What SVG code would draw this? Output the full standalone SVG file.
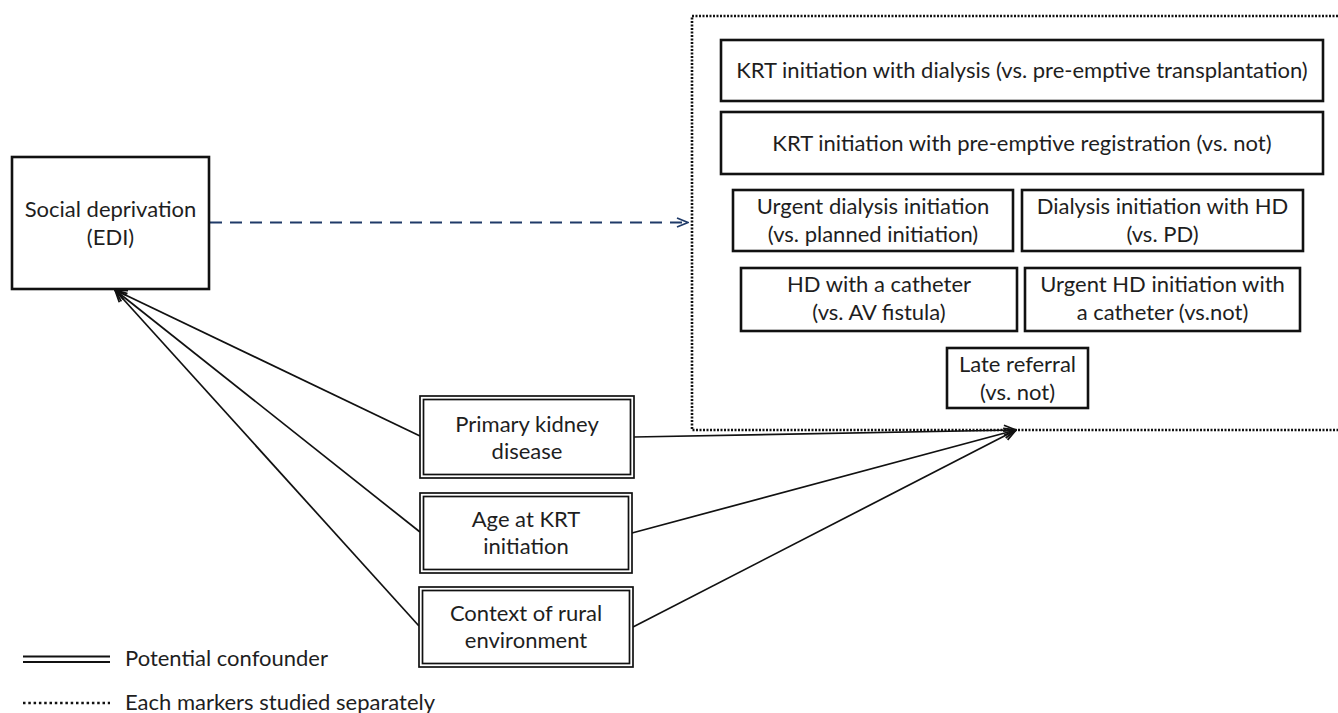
<svg xmlns="http://www.w3.org/2000/svg" width="1338" height="713" viewBox="0 0 1338 713">
  <defs>
    <style>
      .t { font-family: Lato, "Open Sans", "Liberation Sans", sans-serif; font-size: 22px; fill: #1e1e1e; text-anchor: middle; }
      .tl { font-family: Lato, "Open Sans", "Liberation Sans", sans-serif; font-size: 22px; fill: #1e1e1e; text-anchor: start; }
      .box { fill: #ffffff; stroke: #111111; stroke-width: 2.6; }
      .dbl { fill: #ffffff; stroke: #111111; stroke-width: 1.7; }
      .dblin { fill: none; stroke: #111111; stroke-width: 1.7; }
      .conn { fill: none; stroke: #111111; stroke-width: 1.7; }
      .dash { fill: none; stroke: #1F3A68; stroke-width: 2; stroke-dasharray: 12 8; }
      .dots { fill: none; stroke: #111111; stroke-width: 2.6; stroke-dasharray: 2 1.5; }
    </style>
    <marker id="arrB" viewBox="0 0 14 12" refX="13" refY="6" markerWidth="14" markerHeight="12" markerUnits="userSpaceOnUse" orient="auto">
      <path d="M1,1 L13,6 L1,11" fill="none" stroke="#111111" stroke-width="1.8"/>
    </marker>
    <marker id="arrN" viewBox="0 0 14 12" refX="13" refY="6" markerWidth="14" markerHeight="12" markerUnits="userSpaceOnUse" orient="auto">
      <path d="M2,1.5 L13,6 L2,10.5" fill="none" stroke="#1F3A68" stroke-width="1.8"/>
    </marker>
  </defs>

  <rect width="1338" height="713" fill="#ffffff"/>

  <g id="outcomes-group">
    <path class="dots" d="M1345,16 L692,16 L692,430 L1345,430"/>
  </g>

  <g id="connectors">
    <line class="dash" x1="210" y1="222.5" x2="688" y2="222.5" marker-end="url(#arrN)"/>
    <line class="conn" x1="420" y1="436" x2="115" y2="290" marker-end="url(#arrB)"/>
    <line class="conn" x1="420" y1="532" x2="115" y2="290" marker-end="url(#arrB)"/>
    <line class="conn" x1="419" y1="626" x2="115" y2="290" marker-end="url(#arrB)"/>
    <line class="conn" x1="634" y1="437" x2="1016" y2="430" marker-end="url(#arrB)"/>
    <line class="conn" x1="632" y1="533" x2="1016" y2="430" marker-end="url(#arrB)"/>
    <line class="conn" x1="633" y1="627" x2="1016" y2="430" marker-end="url(#arrB)"/>
  </g>

  <g id="social-deprivation">
    <rect class="box" x="12" y="157" width="197" height="132"/>
    <text class="t" x="110.5" y="217">Social deprivation</text>
    <text class="t" x="110.5" y="245">(EDI)</text>
  </g>

  <g id="krt-dialysis">
    <rect class="box" x="721" y="40" width="602" height="61"/>
    <text class="t" x="1022" y="78">KRT initiation with dialysis (vs. pre-emptive transplantation)</text>
  </g>

  <g id="krt-registration">
    <rect class="box" x="721" y="112" width="602" height="62"/>
    <text class="t" x="1022" y="151">KRT initiation with pre-emptive registration (vs. not)</text>
  </g>

  <g id="urgent-dialysis">
    <rect class="box" x="733" y="190" width="280" height="61"/>
    <text class="t" x="873" y="214">Urgent dialysis initiation</text>
    <text class="t" x="873" y="242">(vs. planned initiation)</text>
  </g>

  <g id="dialysis-hd">
    <rect class="box" x="1022" y="190" width="281" height="61"/>
    <text class="t" x="1162.5" y="214">Dialysis initiation with HD</text>
    <text class="t" x="1162.5" y="242">(vs. PD)</text>
  </g>

  <g id="hd-catheter">
    <rect class="box" x="741" y="268" width="276" height="63"/>
    <text class="t" x="879" y="292">HD with a catheter</text>
    <text class="t" x="879" y="320">(vs. AV fistula)</text>
  </g>

  <g id="urgent-hd-catheter">
    <rect class="box" x="1025" y="268" width="275" height="63"/>
    <text class="t" x="1162.5" y="292">Urgent HD initiation with</text>
    <text class="t" x="1162.5" y="320">a catheter (vs.not)</text>
  </g>

  <g id="late-referral">
    <rect class="box" x="947" y="348" width="141" height="60"/>
    <text class="t" x="1017.5" y="372">Late referral</text>
    <text class="t" x="1017.5" y="400">(vs. not)</text>
  </g>

  <g id="primary-kidney-disease">
    <rect class="dbl" x="420" y="396" width="214" height="82"/>
    <rect class="dblin" x="423.5" y="399.5" width="207" height="75"/>
    <text class="t" x="527" y="432">Primary kidney</text>
    <text class="t" x="527" y="459">disease</text>
  </g>

  <g id="age-krt">
    <rect class="dbl" x="420" y="493" width="212" height="80"/>
    <rect class="dblin" x="423.5" y="496.5" width="205" height="73"/>
    <text class="t" x="526" y="527">Age at KRT</text>
    <text class="t" x="526" y="554">initiation</text>
  </g>

  <g id="rural-context">
    <rect class="dbl" x="419" y="587" width="214" height="80"/>
    <rect class="dblin" x="422.5" y="590.5" width="207" height="73"/>
    <text class="t" x="526" y="621">Context of rural</text>
    <text class="t" x="526" y="648">environment</text>
  </g>

  <g id="legend">
    <line x1="23" y1="656.5" x2="110" y2="656.5" stroke="#111111" stroke-width="2.2"/>
    <line x1="23" y1="662" x2="110" y2="662" stroke="#111111" stroke-width="2.2"/>
    <text class="tl" x="125" y="666">Potential confounder</text>
    <line x1="23" y1="703" x2="110" y2="703" stroke="#111111" stroke-width="2.6" stroke-dasharray="2.5 2.8"/>
    <text class="tl" x="125" y="710">Each markers studied separately</text>
  </g>
</svg>
